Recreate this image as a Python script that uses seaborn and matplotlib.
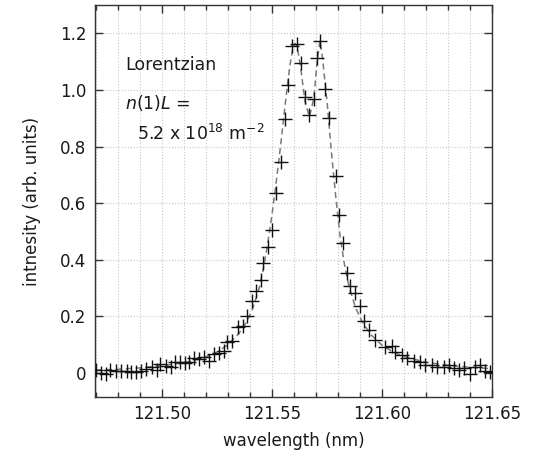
import numpy as np
import pandas as pd
import matplotlib
matplotlib.use("Agg")
import matplotlib.pyplot as plt
import seaborn as sns
from matplotlib.ticker import MultipleLocator, FuncFormatter

# measured spectrum (wavelength in nm, intensity in arb. units)
obs_wavelength = [
    121.4700, 121.4724, 121.4745, 121.4765, 121.4791, 121.4815, 121.4841, 121.4860,
    121.4882, 121.4906, 121.4927, 121.4955, 121.4977, 121.4992, 121.5018, 121.5042,
    121.5060, 121.5083, 121.5106, 121.5121, 121.5144, 121.5167, 121.5190, 121.5212,
    121.5235, 121.5258, 121.5280, 121.5297, 121.5317, 121.5347, 121.5367, 121.5385,
    121.5408, 121.5426, 121.5450, 121.5458, 121.5483, 121.5501, 121.5520, 121.5540,
    121.5559, 121.5571, 121.5591, 121.5612, 121.5630, 121.5650, 121.5670, 121.5691,
    121.5703, 121.5718, 121.5740, 121.5758, 121.5790, 121.5806, 121.5821, 121.5841,
    121.5856, 121.5879, 121.5901, 121.5917, 121.5939, 121.5970, 121.6015, 121.6045,
    121.6061, 121.6091, 121.6114, 121.6144, 121.6174, 121.6197, 121.6227, 121.6250,
    121.6280, 121.6303, 121.6326, 121.6349, 121.6372, 121.6402, 121.6424, 121.6447,
    121.6470, 121.6492, 121.6508,
]
obs_intensity = [
    0.011, 0.001, -0.004, 0.011, 0.008, 0.008, 0.008, 0.005,
    0.005, 0.008, 0.013, 0.020, 0.011, 0.032, 0.025, 0.022,
    0.040, 0.040, 0.036, 0.040, 0.052, 0.048, 0.058, 0.044,
    0.067, 0.070, 0.079, 0.111, 0.113, 0.164, 0.166, 0.202,
    0.253, 0.290, 0.327, 0.388, 0.446, 0.504, 0.637, 0.744,
    0.896, 1.016, 1.155, 1.163, 1.094, 0.976, 0.910, 0.969,
    1.114, 1.173, 1.004, 0.902, 0.697, 0.559, 0.459, 0.353,
    0.308, 0.284, 0.235, 0.182, 0.152, 0.117, 0.093, 0.097,
    0.075, 0.064, 0.054, 0.042, 0.037, 0.028, 0.028, 0.022,
    0.022, 0.028, 0.017, 0.011, 0.017, -0.004, 0.022, 0.028,
    0.008, 0.005, 0.005,
]

# Lorentzian fit curve
fit_wavelength = [
    121.470, 121.480, 121.490, 121.500, 121.510, 121.515, 121.520, 121.525,
    121.530, 121.535, 121.538, 121.541, 121.544, 121.546, 121.548, 121.550,
    121.552, 121.554, 121.556, 121.558, 121.5595, 121.5605, 121.5615, 121.563,
    121.565, 121.567, 121.569, 121.5705, 121.5718, 121.573, 121.575, 121.577,
    121.579, 121.581, 121.583, 121.585, 121.588, 121.591, 121.595, 121.600,
    121.605, 121.610, 121.620, 121.630, 121.640, 121.650,
]
fit_intensity = [
    0.010, 0.013, 0.018, 0.026, 0.036, 0.045, 0.057, 0.074,
    0.100, 0.140, 0.175, 0.222, 0.295, 0.365, 0.455, 0.560,
    0.680, 0.810, 0.950, 1.080, 1.150, 1.165, 1.150, 1.080,
    0.960, 0.905, 0.970, 1.100, 1.175, 1.110, 0.960, 0.780,
    0.620, 0.480, 0.380, 0.305, 0.230, 0.180, 0.135, 0.098,
    0.074, 0.058, 0.038, 0.027, 0.020, 0.015,
]

obs = pd.DataFrame({"wavelength": obs_wavelength, "intensity": obs_intensity})
fit = pd.DataFrame({"wavelength": fit_wavelength, "intensity": fit_intensity})

sns.set_style("ticks")
plt.rcParams["font.family"] = ["DejaVu Sans"]
plt.rcParams["mathtext.fontset"] = "dejavusans"

fig = plt.figure(figsize=(5.36, 4.63), dpi=100)
ax = fig.add_axes([0.177, 0.1425, 0.741, 0.8465])

sns.lineplot(data=fit, x="wavelength", y="intensity", ax=ax, color="#7a7a7a",
             linewidth=1.1, linestyle=(0, (4, 2.5)), sort=False, zorder=2)
sns.scatterplot(data=obs, x="wavelength", y="intensity", ax=ax, marker="+",
                s=100, color="#111111", linewidth=1.0, zorder=3)

ax.set_xlim(121.4695, 121.65)
ax.set_ylim(-0.085, 1.3)
ax.xaxis.set_major_locator(MultipleLocator(0.05))
ax.xaxis.set_minor_locator(MultipleLocator(0.01))
ax.yaxis.set_major_locator(MultipleLocator(0.2))
ax.xaxis.set_major_formatter(FuncFormatter(lambda v, p: f"{v:.2f}"))
ax.yaxis.set_major_formatter(FuncFormatter(lambda v, p: "0" if abs(v) < 1e-9 else f"{v:.1f}"))

ax.grid(True, which="both", axis="x", color="#c8c8c8", linestyle=":", linewidth=0.8)
ax.grid(True, which="major", axis="y", color="#c8c8c8", linestyle=":", linewidth=0.8)
ax.set_axisbelow(True)

ax.tick_params(which="both", direction="in", top=True, right=True, color="#333333",
               labelsize=12, width=1, labelcolor="#1a1a1a")
ax.tick_params(which="major", length=6, pad=6)
ax.tick_params(which="minor", length=3.5)
for s in ax.spines.values():
    s.set_color("#333333")
    s.set_linewidth(1)

ax.set_xlabel("wavelength (nm)", fontsize=12, labelpad=6, color="#1a1a1a")
ax.set_ylabel("intnesity (arb. units)", fontsize=12, labelpad=14, color="#1a1a1a")

ax.text(0.076, 0.847, "Lorentzian", transform=ax.transAxes, fontsize=12.5,
        va="center", color="#1a1a1a")
ax.text(0.076, 0.750, "$n$(1)$L$ =", transform=ax.transAxes, fontsize=12.5,
        va="center", color="#1a1a1a")
ax.text(0.106, 0.672, "5.2 x 10$^{18}$ m$^{-2}$", transform=ax.transAxes, fontsize=12.5,
        va="center", color="#1a1a1a")

fig.savefig("out.png", dpi=100)
